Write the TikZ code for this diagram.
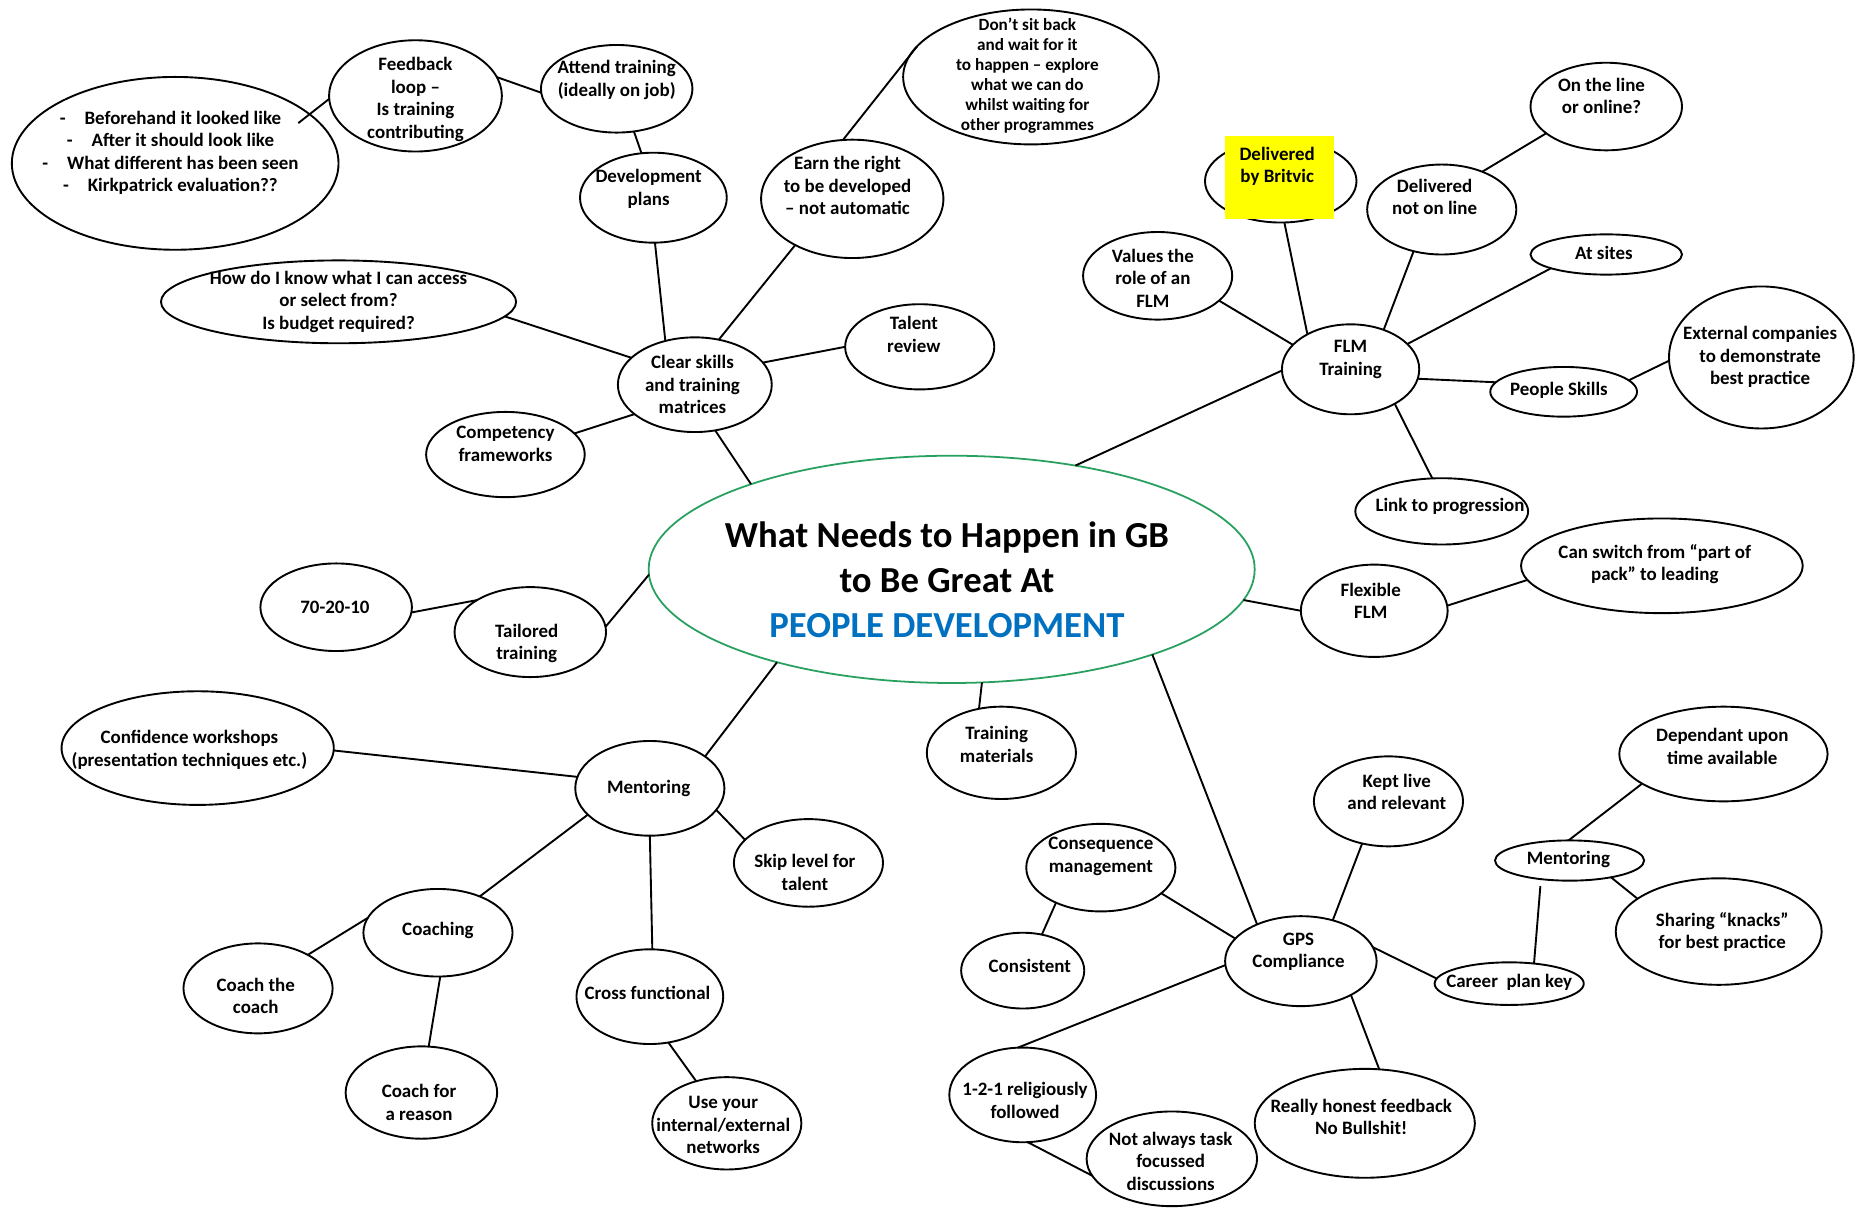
\documentclass[tikz,border=0pt]{standalone}
\usepackage{fontspec}
\setmainfont{Carlito}
\usetikzlibrary{shapes.geometric}
\definecolor{pdblue}{RGB}{0,112,192}
\definecolor{pdgreen}{RGB}{40,160,95}
\definecolor{hlyellow}{RGB}{255,255,0}
\tikzset{
  bub/.style={draw=black, ellipse, line width=1.6pt, inner sep=0pt, outer sep=0pt},
  txt/.style={align=center, inner sep=0pt, font=\fontsize{16}{19}\selectfont\bfseries},
  conn/.style={draw=black, line width=1.6pt},
}
\newcommand\mybub[8]{%
  \node[bub, minimum width=#4pt, minimum height=#5pt] (#1) at (#2,#3) {};
  \node[txt] (#1-t) at (#6,#7) {#8};
}
\begin{document}
\begin{tikzpicture}[x=1pt,y=-1pt]
\useasboundingbox (0,0) rectangle (1568,1020);
\fill[white] (0,0) rectangle (1568,1020);

% centre
\node[draw=pdgreen, ellipse, line width=1.5pt, minimum width=512pt, minimum height=192pt, inner sep=0pt, outer sep=0pt] (ctr) at (804,481) {};
\node[align=center, inner sep=0pt, font=\fontsize{31}{38}\selectfont\bfseries] (ctr-t) at (800,490)
  {What Needs to Happen in GB\\to Be Great At\\\textcolor{pdblue}{PEOPLE DEVELOPMENT}};

% top-left cluster
\mybub{bl}{148}{138}{276}{146}{144}{129}{-\hspace{1em}Beforehand it looked like\\-\hspace{1em}After it should look like\\-\hspace{1em}What different has been seen\\-\hspace{1em}Kirkpatrick evaluation??}
\mybub{fb}{351}{81}{146}{94}{351}{84}{Feedback\\loop –\\Is training\\contributing}
\mybub{att}{521}{75}{128}{74}{521}{67.5}{Attend training\\(ideally on job)}
\mybub{dev}{552}{167}{124}{76}{548}{159.5}{Development\\plans}
\mybub{earn}{720}{168}{154}{100}{716}{157}{Earn the right\\to be developed\\– not automatic}
\node[bub, minimum width=216pt, minimum height=114pt] (dont) at (871,65) {};
\node[txt, font=\fontsize{14.5}{17}\selectfont\bfseries] (dont-t) at (868,64) {Don’t sit back\\and wait for it\\to happen – explore\\what we can do\\whilst waiting for\\other programmes};
\mybub{how}{286}{255}{300}{70}{286}{255}{How do I know what I can access\\or select from?\\Is budget required?}
\mybub{clr}{587}{325}{130}{80}{585}{325}{Clear skills\\and training\\matrices}
\mybub{tal}{777}{293}{126}{72}{772}{282.5}{Talent\\review}
\mybub{cmp}{427}{384}{134}{72}{427}{375}{Competency\\frameworks}

% left / bottom-left
\mybub{sev}{284}{513}{128}{74}{283}{513}{70-20-10}
\mybub{tlr}{448}{534}{128}{76}{445}{543.5}{Tailored\\training}
\mybub{cnf}{167}{632}{230}{96}{160}{633.5}{Confidence workshops\\(presentation techniques etc.)}
\mybub{mnl}{549}{666}{126}{80}{548}{666}{Mentoring}
\mybub{skp}{683}{729}{126}{74}{680}{737}{Skip level for\\talent}
\mybub{cch}{370}{788}{126}{74}{370}{786}{Coaching}
\mybub{ctc}{218}{835}{126}{76}{216}{841.5}{Coach the\\coach}
\mybub{cfr}{356}{923}{128}{78}{354}{931.5}{Coach for\\a reason}
\mybub{crs}{549}{842}{124}{80}{547}{839}{Cross functional}
\mybub{net}{614}{949}{126}{78}{611}{950.5}{Use your\\internal/external\\networks}
\mybub{tm}{846}{636}{126}{78}{842}{629}{Training\\materials}

% top-right cluster
\mybub{val}{978}{233}{126}{74}{974}{235}{Values the\\role of an\\FLM}
\node[bub, minimum width=128pt, minimum height=70pt] (brv) at (1082,153) {};
\node[fill=hlyellow, inner sep=0pt, outer sep=0pt, minimum width=92pt, minimum height=70pt] (brv-hl) at (1081,150) {};
\node[txt] (brv-t) at (1079,140.5) {Delivered\\by Britvic};
\mybub{dnl}{1218}{177}{126}{76}{1212}{166.5}{Delivered\\not on line}
\mybub{onl}{1357}{90}{128}{74}{1353}{81}{On the line\\or online?}
\mybub{sit}{1357}{215}{128}{34}{1355}{214}{At sites}
\mybub{flm}{1141}{312}{116}{76}{1141}{303.5}{FLM\\Training}
\mybub{ppl}{1321}{331}{124}{42}{1317}{330}{People Skills}
\mybub{ext}{1488}{302}{156}{120}{1487}{301.5}{External companies\\to demonstrate\\best practice}
\mybub{lnk}{1218}{432}{146}{56}{1225}{428}{Link to progression}
\mybub{flx}{1161}{516}{124}{78}{1158}{507.5}{Flexible\\FLM}
\mybub{swt}{1404}{478}{238}{80}{1398}{476.5}{Can switch from “part of\\pack” to leading}

% bottom-right cluster
\mybub{kpt}{1173}{677}{126}{76}{1180}{669}{Kept live\\and relevant}
\mybub{csq}{930}{733}{126}{74}{930}{723.5}{Consequence\\management}
\mybub{cst}{864}{820}{104}{64}{870}{816}{Consistent}
\mybub{gps}{1099}{812}{128}{76}{1097}{804}{GPS\\Compliance}
\mybub{car}{1275}{831}{126}{36}{1275}{830}{Career\ \ plan key}
\mybub{mnr}{1326}{727}{126}{34}{1325}{726}{Mentoring}
\mybub{dep}{1456}{637}{176}{80}{1455}{630.5}{Dependant upon\\time available}
\mybub{shr}{1452}{787}{174}{90}{1455}{787.5}{Sharing “knacks”\\for best practice}
\mybub{one}{864}{925}{124}{80}{866}{929.5}{1-2-1 religiously\\followed}
\mybub{nat}{990}{979}{144}{80}{989}{981}{Not always task\\focussed\\discussions}
\mybub{hon}{1153}{949}{186}{92}{1150}{943.5}{Really honest feedback\\No Bullshit!}

% connectors
\coordinate (blend) at (252,104);
\draw[conn] (fb.182) -- (blend);
\draw[conn] (fb.13) -- (att.183);
\draw[conn] (att.-68) -- (dev.105);
\draw[conn] (dev.-88) -- (clr.124);
\draw[conn] (earn.-141) -- (clr.62);
\draw[conn] (earn.99) -- (dont.165);
\draw[conn] (tal.180) -- (clr.18);
\draw[conn] (how.-5) -- (clr.157);
\draw[conn] (cmp.17) -- (clr.206);
\draw[conn] (clr.-66) -- (ctr.157);
\draw[conn] (ctr.40) -- (flm.181);
\draw[conn] (val.-22) -- (flm.157);
\draw[conn] (brv.-85) -- (flm.141);
\draw[conn] (dnl.-124) -- (flm.50);
\draw[conn] (dnl.43) -- (onl.204);
\draw[conn] (sit.194) -- (flm.24);
\draw[conn] (flm.-8) -- (ppl.172);
\draw[conn] (ppl.10) -- (ext.182);
\draw[conn] (flm.-38) -- (lnk.106);
\draw[conn] (ctr.-6) -- (flx.180);
\draw[conn] (flx.4) -- (swt.186);
\draw[conn] (ctr.181) -- (tlr.4);
\draw[conn] (sev.-4) -- (tlr.149);
\draw[conn] (ctr.208) -- (mnl.30);
\draw[conn] (cnf.-1) -- (mnl.171);
\draw[conn] (mnl.-18) -- (skp.160);
\draw[conn] (mnl.203) -- (cch.41);
\draw[conn] (mnl.-90) -- (crs.87);
\draw[conn] (cch.168) -- (ctc.34);
\draw[conn] (cch.-87) -- (cfr.81);
\draw[conn] (crs.-68) -- (net.126);
\draw[conn] (ctr.-75) -- (tm.117);
\draw[conn] (ctr.-23) -- (gps.140);
\draw[conn] (kpt.238) -- (gps.52);
\draw[conn] (csq.-23) -- (gps.161);
\draw[conn] (csq.218) -- (cst.62);
\draw[conn] (gps.11) -- (car.176);
\draw[conn, shorten <=6pt] (mnr.-147) -- (car.39);
\draw[conn] (mnr.93) -- (dep.200);
\draw[conn] (mnr.-22) -- (shr.158);
\draw[conn] (gps.183) -- (one.96);
\draw[conn] (one.-84) -- (nat.192);
\draw[conn] (gps.-34) -- (hon.75);
\end{tikzpicture}
\end{document}
